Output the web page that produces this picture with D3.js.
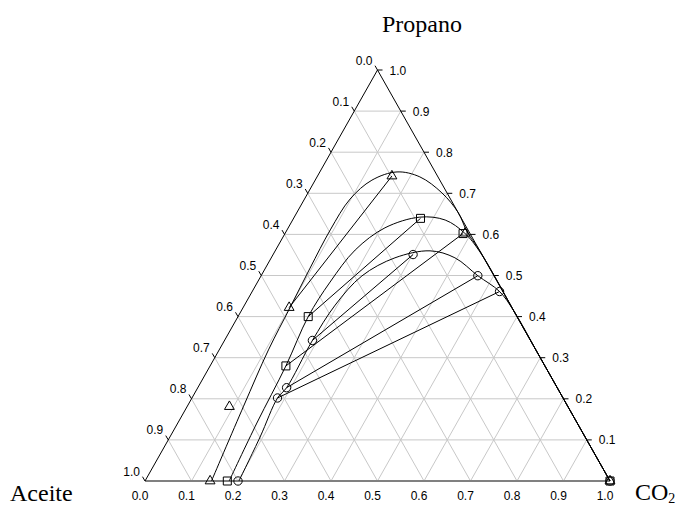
<!DOCTYPE html>
<html>
<head>
<meta charset="utf-8">
<script src="https://cdn.jsdelivr.net/npm/d3@7"></script>
<style>
  body { margin: 0; background: #fff; }
  svg { display: block; }
</style>
</head>
<body>
<svg id="chart" width="682" height="507"></svg>
<script>
// ternary values as [CO2, Propano]; Aceite = 1 - CO2 - Propano
const tickValues = [0, 0.1, 0.2, 0.3, 0.4, 0.5, 0.6, 0.7, 0.8, 0.9, 1.0];

const triPoints = [[0.16, 0.742], [0.387, 0.603], [0.099, 0.422], [0.091, 0.181], [0.14, 0], [1, 0]];
const sqPoints = [[0.273, 0.639], [0.383, 0.602], [0.151, 0.400], [0.163, 0.280], [0.177, 0], [1, 0]];
const circPoints = [[0.301, 0.551], [0.466, 0.4995], [0.532, 0.461], [0.189, 0.342], [0.191, 0.227], [0.184, 0.202], [0.20, 0], [1, 0]];

// tie lines (pairs of points)
const triTies = [[[0.16, 0.742], [0.099, 0.422]]];
const sqTies = [[[0.273, 0.639], [0.151, 0.400]], [[0.383, 0.602], [0.163, 0.280]]];
const circTies = [[[0.301, 0.551], [0.189, 0.342]], [[0.466, 0.4995], [0.191, 0.227]], [[0.532, 0.461], [0.184, 0.202]]];

// binodal curves
const triCurve = [[0.143, 0], [0.121, 0.182], [0.106, 0.319], [0.101, 0.421], [0.096, 0.518], [0.093, 0.611],
  [0.098, 0.686], [0.122, 0.732], [0.166, 0.752], [0.221, 0.740], [0.288, 0.701], [0.346, 0.654],
  [0.390, 0.606], [0.44, 0.56], [0.60, 0.40], [0.80, 0.20], [1, 0]];
const sqCurve = [[0.181, 0], [0.170, 0.141], [0.163, 0.280], [0.151, 0.400], [0.156, 0.484], [0.171, 0.562],
  [0.208, 0.616], [0.270, 0.642], [0.328, 0.635], [0.386, 0.603], [0.442, 0.557], [0.60, 0.40],
  [0.80, 0.20], [1, 0]];
const circCurve = [[0.202, 0], [0.194, 0.107], [0.184, 0.202], [0.191, 0.227], [0.189, 0.341], [0.195, 0.428],
  [0.217, 0.499], [0.266, 0.543], [0.333, 0.560], [0.395, 0.543], [0.466, 0.4995], [0.532, 0.461],
  [0.586, 0.414], [0.70, 0.30], [0.85, 0.15], [1, 0]];

const svg = d3.select("#chart");

const xScale = d3.scaleLinear().domain([0, 1]).range([145, 610]);
const yScale = d3.scaleLinear().domain([0, 1]).range([481, 70]);

// project [CO2, Propano] to pixels
const px = d => xScale(d[0] + d[1] / 2);
const py = d => yScale(d[1]);

const g = svg.append("g");

// grid
const grid = g.append("g").attr("stroke", "#c8c8c8").attr("stroke-width", 1);
tickValues.slice(1, 10).forEach(v => {
  // constant propano
  grid.append("line").attr("x1", px([0, v])).attr("y1", py([0, v])).attr("x2", px([1 - v, v])).attr("y2", py([1 - v, v]));
  // constant CO2
  grid.append("line").attr("x1", px([v, 0])).attr("y1", py([v, 0])).attr("x2", px([v, 1 - v])).attr("y2", py([v, 1 - v]));
  // constant aceite
  grid.append("line").attr("x1", px([1 - v, 0])).attr("y1", py([1 - v, 0])).attr("x2", px([0, 1 - v])).attr("y2", py([0, 1 - v]));
});

// triangle edges
g.append("line").attr("x1", px([0, 0])).attr("y1", py([0, 0])).attr("x2", px([1, 0])).attr("y2", py([1, 0]))
  .attr("stroke", "#808080").attr("stroke-width", 2);
g.append("line").attr("x1", px([0, 0])).attr("y1", py([0, 0])).attr("x2", px([0, 1])).attr("y2", py([0, 1]))
  .attr("stroke", "#000").attr("stroke-width", 1);
g.append("line").attr("x1", px([1, 0])).attr("y1", py([1, 0])).attr("x2", px([0, 1])).attr("y2", py([0, 1]))
  .attr("stroke", "#000").attr("stroke-width", 1);

const tickFont = "'Liberation Sans', Arial, sans-serif";

// left axis: Aceite (0 at top, 1 at bottom-left)
tickValues.forEach(v => {
  const p = [0, 1 - v];
  const x = px(p), y = py(p);
  g.append("line").attr("x1", x).attr("y1", y).attr("x2", x - 2.5).attr("y2", y - 4.3).attr("stroke", "#000");
  g.append("text").attr("x", x - 5).attr("y", y - 5.5).attr("text-anchor", "end")
    .style("font-family", tickFont).style("font-size", "12px").text(v.toFixed(1));
});

// right axis: Propano
tickValues.slice(1).forEach(v => {
  const p = [1 - v, v];
  const x = px(p), y = py(p);
  g.append("line").attr("x1", x).attr("y1", y).attr("x2", x + 5).attr("y2", y).attr("stroke", "#000");
  g.append("text").attr("x", x + 12).attr("y", y + 4.5).attr("text-anchor", "start")
    .style("font-family", tickFont).style("font-size", "12px").text(v.toFixed(1));
});

// bottom axis: CO2
tickValues.forEach(v => {
  const x = px([v, 0]), y = py([v, 0]);
  g.append("text").attr("x", x - 5).attr("y", y + 18.5).attr("text-anchor", "middle")
    .style("font-family", tickFont).style("font-size", "12px").text(v.toFixed(1));
});

// curves
const line = d3.line().x(px).y(py).curve(d3.curveCatmullRom.alpha(0.5));
[triCurve, sqCurve, circCurve].forEach(c => {
  g.append("path").datum(c).attr("fill", "none").attr("stroke", "#000").attr("stroke-width", 1).attr("d", line);
});

// tie lines
[...triTies, ...sqTies, ...circTies].forEach(t => {
  g.append("line").attr("x1", px(t[0])).attr("y1", py(t[0])).attr("x2", px(t[1])).attr("y2", py(t[1]))
    .attr("stroke", "#000").attr("stroke-width", 1);
});

// markers
const series = [
  { data: triPoints, symbol: d3.symbolTriangle, size: 42 },
  { data: sqPoints, symbol: d3.symbolSquare, size: 64 },
  { data: circPoints, symbol: d3.symbolCircle, size: 55 }
];
series.forEach(s => {
  g.append("g").selectAll("path").data(s.data).join("path")
    .attr("transform", d => `translate(${px(d)},${py(d)})`)
    .attr("d", d3.symbol().type(s.symbol).size(s.size))
    .attr("fill", "none").attr("stroke", "#000").attr("stroke-width", 1);
});

// axis titles
const titleFont = "'Liberation Serif', 'Times New Roman', serif";
svg.append("text").attr("x", 422).attr("y", 32).attr("text-anchor", "middle")
  .style("font-family", titleFont).style("font-size", "24px").text("Propano");
svg.append("text").attr("x", 10).attr("y", 501).attr("text-anchor", "start")
  .style("font-family", titleFont).style("font-size", "24px").text("Aceite");
const co2 = svg.append("text").attr("x", 635).attr("y", 500).attr("text-anchor", "start")
  .style("font-family", titleFont).style("font-size", "24px");
co2.append("tspan").text("CO");
co2.append("tspan").attr("dy", 3).style("font-size", "14px").text("2");
</script>
</body>
</html>
